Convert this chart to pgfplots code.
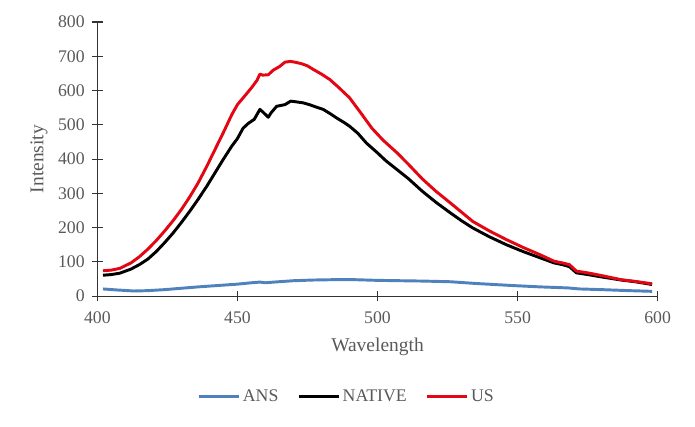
\documentclass[border=0pt]{standalone}
\usepackage{pgfplots}
\pgfplotsset{compat=1.18}
\usepackage{fontspec}
\setmainfont{Liberation Serif}
\definecolor{txt}{HTML}{595959}
\definecolor{ansblue}{HTML}{4F81BD}
\definecolor{usred}{HTML}{E30613}
\begin{document}
\begin{tikzpicture}
\begin{axis}[
  scale only axis,
  width=420pt, height=205.5pt,
  xmin=400, xmax=600, ymin=0, ymax=800,
  axis x line=bottom, axis y line=left,
  axis line style={-, draw=black!80, line width=0.8pt},
  xtick={400,450,...,600}, ytick={0,100,...,800},
  tick align=center, major tick length=8pt,
  tick style={draw=black!80, line width=0.8pt},
  /pgf/number format/assume math mode=true,
  ticklabel style={font=\fontsize{13.3}{15}\selectfont, text=txt},
  yticklabel style={xshift=-2pt},
  xticklabel style={yshift=-4pt},
  xlabel={Wavelength}, ylabel={Intensity},
  label style={font=\fontsize{14.6}{16}\selectfont, text=txt},
  xlabel style={yshift=-4pt},
  ylabel style={yshift=1pt},
  legend columns=3,
  legend style={at={(axis description cs:0.5,0)}, anchor=center, xshift=-23pt, yshift=-75pt,
    draw=none, font=\fontsize{13.3}{15}\selectfont, text=txt,
    /tikz/every even column/.append style={column sep=12pt}},
  legend image code/.code={\draw[#1] (0pt,0pt) -- (30pt,0pt);},
  every axis plot/.append style={line width=2.2pt, line join=round},
]
\addplot[ansblue] coordinates {
(402,21) (407,18) (413,15) (418,16) (424,19) (430,23) (436,27) (443,31) (450,35)
(455,39) (458,41) (460,39) (463,41) (470,45) (477,47) (484,48) (492,48) (500,46)
(508,45) (516,44) (526,42) (535,37) (548,31) (558,27) (568,24) (572,21) (580,19)
(590,16) (598,14)};
\addlegendentry{ANS}
\addplot[black] coordinates {
(402,61) (405,63) (408,67) (412,79) (415,92) (418,108) (421,130) (424,156) (427,184)
(430,215) (433,248) (436,283) (439,320) (442,360) (445,400) (448,438) (450,460)
(452,490) (454,505) (456,516) (458,545) (459,538) (461,522) (462,535) (464,554)
(467,559) (469,569) (471,567) (473.5,564) (476,558) (478,552) (480.6,545) (483,533)
(485.4,520) (488,507) (490,496) (493,475) (496,447) (500,418) (503,395) (507,369)
(511,343) (516,306) (521,273) (526,243) (530,220) (534,199) (540,173) (546,150)
(552,130) (558,112) (563,97) (566,92) (568.5,86) (571,68) (575,63) (580,56)
(587,47) (592,42) (598,34)};
\addlegendentry{NATIVE}
\addplot[usred] coordinates {
(402,74) (405,76) (408,81) (412,97) (415,115) (418,137) (421,162) (424,190) (427,220)
(430,253) (433,290) (436,331) (439,378) (442,428) (445,478) (448,530) (450,559)
(453,588) (455,608) (457,630) (458,648) (459,645) (461,646) (462.7,659) (465,670)
(467,683) (469,685) (471,682) (473,678) (475,672) (477,662) (480,648) (483,632)
(486,610) (490,579) (494,535) (498,490) (502,455) (507,418) (511,385) (516,342)
(521,305) (526,272) (530,245) (534,218) (540,190) (546,165) (552,142) (558,121)
(563,102) (566,97) (568.5,92) (571,73) (575,68) (580,60) (587,48) (592,43) (598,36)};
\addlegendentry{US}
\end{axis}
\pgfresetboundingbox
\useasboundingbox ([xshift=-73pt,yshift=-97.5pt]current axis.south west) rectangle ([xshift=28pt,yshift=16.5pt]current axis.north east);
\end{tikzpicture}
\end{document}
